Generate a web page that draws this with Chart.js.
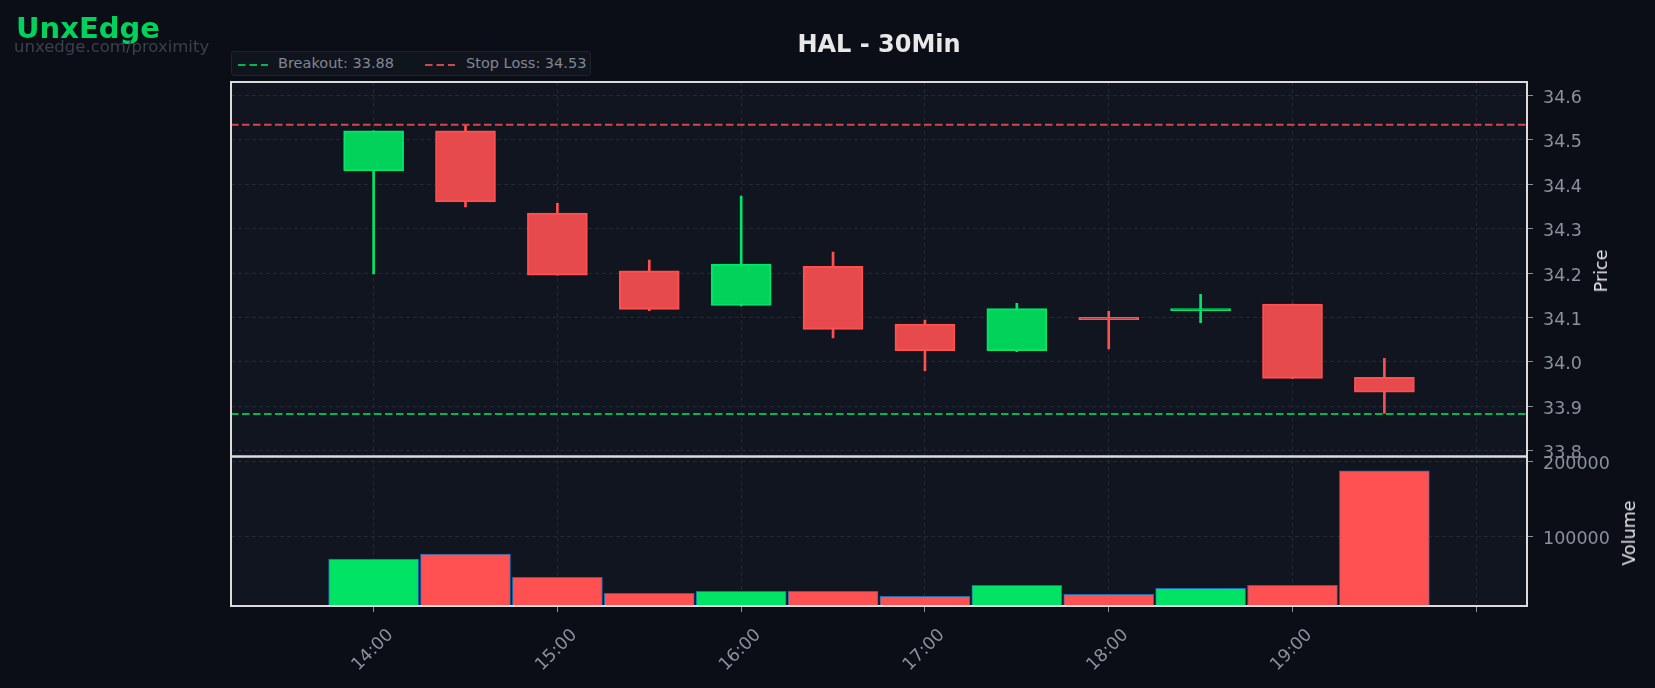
<!DOCTYPE html>
<html>
<head>
<meta charset="utf-8">
<script src="https://cdn.jsdelivr.net/npm/chart.js@4.4.1/dist/chart.umd.min.js"></script>
<style>
  html,body{margin:0;padding:0;background:#0b0e16;}
  #wrap{position:relative;width:1655px;height:688px;overflow:hidden;font-family:'DejaVu Sans',sans-serif;}
  #wrap canvas{position:absolute;left:0;top:0;}
  .abs{position:absolute;white-space:nowrap;}
  #brand{left:16px;top:11px;font-size:29px;font-weight:bold;color:#00d25c;}
  #site{left:14px;top:37px;font-size:16.5px;color:#3b404b;}
  #title{left:879px;top:30px;transform:translateX(-50%);font-size:24px;font-weight:bold;color:#e8e8e8;}
  #legend{left:231px;top:51px;width:360px;height:25px;background:#10141d;border:1px solid #1e2330;border-radius:3px;box-sizing:border-box;}
  #legend span{position:absolute;top:3px;font-size:14.5px;color:#818793;}
  #legend svg{position:absolute;top:11px;}
  .ytitle{font-size:17.5px;color:#e6e6e6;transform:translate(-50%,-50%) rotate(-90deg);}
</style>
</head>
<body>
<div id="wrap">
  <canvas id="c" width="1655" height="688"></canvas>
  <div class="abs" id="brand">UnxEdge</div>
  <div class="abs" id="site">unxedge.com/proximity</div>
  <div class="abs" id="title">HAL - 30Min</div>
  <div class="abs" id="legend">
    <svg width="32" height="4" style="left:6px"><line x1="0" y1="2" x2="30" y2="2" stroke="#00b851" stroke-width="2" stroke-dasharray="7.5,4"/></svg>
    <span id="lgB" style="left:46px"></span>
    <svg width="32" height="4" style="left:193px"><line x1="0" y1="2" x2="30" y2="2" stroke="#d5464b" stroke-width="2" stroke-dasharray="7.5,4"/></svg>
    <span id="lgS" style="left:234px"></span>
  </div>
  <div class="abs ytitle" style="left:1601px;top:271px">Price</div>
  <div class="abs ytitle" style="left:1629px;top:533px">Volume</div>
</div>
<script>
const TIMES  = ['14:00','14:30','15:00','15:30','16:00','16:30','17:00','17:30','18:00','18:30','19:00','19:30'];
const OPEN   = [34.43, 34.52, 34.335, 34.205, 34.127, 34.215, 34.085, 34.025, 34.10, 34.115, 34.13, 33.965];
const HIGH   = [34.52, 34.533, 34.357, 34.229, 34.373, 34.247, 34.094, 34.132, 34.114, 34.152, 34.13, 34.008];
const LOW    = [34.198, 34.349, 34.195, 34.115, 34.126, 34.054, 33.98, 34.023, 34.029, 34.088, 33.963, 33.884];
const CLOSE  = [34.52, 34.36, 34.195, 34.118, 34.22, 34.073, 34.025, 34.12, 34.095, 34.12, 33.963, 33.932];
const VOLUME = [69900, 76500, 45800, 24500, 27200, 27000, 20500, 35200, 23200, 31200, 35200, 187200];
const BREAKOUT = 33.8825, STOP_LOSS = 34.5335;
const PRICE_TICKS = [33.8, 33.9, 34.0, 34.1, 34.2, 34.3, 34.4, 34.5, 34.6];
const VOL_TICKS = [100000, 200000];
const X_TICKS = [14, 15, 16, 17, 18, 19, 20];
const X_TICK_LABELS = ['14:00','15:00','16:00','17:00','18:00','19:00',''];
const X_RANGE = [13.224, 20.276], PRICE_RANGE = [33.787, 34.630], VOL_RANGE = [7600, 206300];

const UP = {fill:'#00d25a', edge:'#00e66a', vol:'#00e364'};
const DN = {fill:'#e64a4c', edge:'#ff4f4f', vol:'#ff5151'};
const GRID = '#232835', TICKC = '#8b919c';

document.getElementById('lgB').textContent = 'Breakout: ' + BREAKOUT.toFixed(2);
document.getElementById('lgS').textContent = 'Stop Loss: ' + STOP_LOSS.toFixed(2);

const hrs = t => { const [h,m] = t.split(':').map(Number); return h + m/60; };
const xs = TIMES.map(hrs);
const isUp = i => CLOSE[i] >= OPEN[i];

// panel backgrounds + white frames round the price and volume panes
const Panels = {
  id:'panels',
  beforeDraw(chart){
    const {ctx, chartArea:a} = chart;
    ctx.save();
    ctx.fillStyle = '#11151f';
    ctx.fillRect(a.left, a.top, a.right-a.left, a.bottom-a.top);
    ctx.restore();
  },
  afterDraw(chart){
    const {ctx, chartArea:a, scales} = chart;
    ctx.save();
    ctx.strokeStyle = '#dcdcdc'; ctx.lineWidth = 2;
    [scales.y, scales.y2].forEach(s=>{ ctx.strokeRect(a.left, s.top, a.right-a.left, s.bottom-s.top); });
    ctx.restore();
  }
};

const gridOpts = () => ({color:GRID, lineWidth:1, offset:false, tickColor:TICKC, tickLength:6, tickBorderDash:[], tickWidth:1});
const borderOpts = () => ({display:false, dash:[4,3]});
const tickFont = {family:'DejaVu Sans', size:17.5};

new Chart(document.getElementById('c'), {
  data:{datasets:[
    {type:'bar', label:'body', yAxisID:'y', order:1, grouped:false, barThickness:60, borderSkipped:false, borderWidth:2,
     data: xs.map((x,i)=>({x, y:[OPEN[i], CLOSE[i]]})),
     backgroundColor: xs.map((_,i)=>isUp(i)?UP.fill:DN.fill),
     borderColor: xs.map((_,i)=>isUp(i)?UP.edge:DN.edge)},
    {type:'bar', label:'wick', yAxisID:'y', order:2, grouped:false, barThickness:2, borderWidth:0,
     data: xs.map((x,i)=>({x, y:[LOW[i], HIGH[i]]})),
     backgroundColor: xs.map((_,i)=>isUp(i)?UP.edge:DN.edge)},
    {type:'line', label:'Stop Loss', yAxisID:'y', order:0, borderColor:'#d5464b', borderWidth:2, borderDash:[7.5,3.5], pointRadius:0,
     data: X_RANGE.map(x=>({x, y:STOP_LOSS}))},
    {type:'line', label:'Breakout', yAxisID:'y', order:0, borderColor:'#00b851', borderWidth:2, borderDash:[7.5,3.5], pointRadius:0,
     data: X_RANGE.map(x=>({x, y:BREAKOUT}))},
    {type:'bar', label:'Volume', yAxisID:'y2', order:3, grouped:false, barThickness:90, borderSkipped:false, borderWidth:1, borderColor:'#1b6fb5',
     data: xs.map((x,i)=>({x, y:VOLUME[i]})),
     backgroundColor: xs.map((_,i)=>isUp(i)?UP.vol:DN.vol)}
  ]},
  options:{
    responsive:false, animation:false, devicePixelRatio:1,
    layout:{padding:{left:231, top:82, right:0, bottom:0}},
    plugins:{legend:{display:false}, tooltip:{enabled:false}},
    scales:{
      x:{type:'linear', position:'bottom', offset:false, min:X_RANGE[0], max:X_RANGE[1],
         afterBuildTicks:s=>{ s.ticks = X_TICKS.map(v=>({value:v})); },
         afterFit:s=>{ s.height = 82; },
         grid:gridOpts(), border:borderOpts(),
         ticks:{color:TICKC, font:tickFont, minRotation:45, maxRotation:45, autoSkip:false, padding:13, labelOffset:17,
                callback:v=>X_TICK_LABELS[X_TICKS.indexOf(v)] ?? ''}},
      y:{type:'linear', position:'right', stack:'panes', stackWeight:374.5, min:PRICE_RANGE[0], max:PRICE_RANGE[1],
         afterBuildTicks:s=>{ s.ticks = PRICE_TICKS.map(v=>({value:v})); },
         afterFit:s=>{ s.width = 128; },
         grid:gridOpts(), border:borderOpts(),
         ticks:{color:TICKC, font:tickFont, padding:10, labelOffset:3, callback:v=>v.toFixed(1)}},
      y2:{type:'linear', position:'right', stack:'panes', stackWeight:149.5, min:VOL_RANGE[0], max:VOL_RANGE[1],
         afterBuildTicks:s=>{ s.ticks = VOL_TICKS.map(v=>({value:v})); },
         afterFit:s=>{ s.width = 128; },
         grid:gridOpts(), border:borderOpts(),
         ticks:{color:TICKC, font:tickFont, padding:10, labelOffset:3, callback:v=>String(v)}}
    }
  },
  plugins:[Panels]
});
</script>
</body>
</html>
